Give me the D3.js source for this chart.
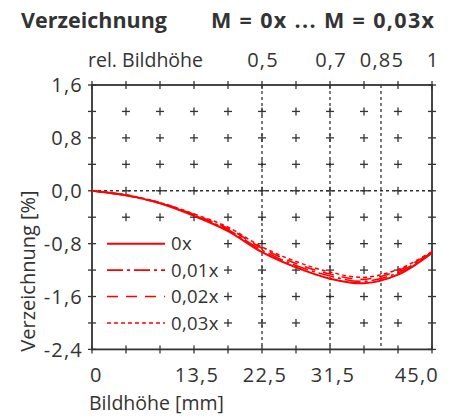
<!DOCTYPE html>
<html><head><meta charset="utf-8">
<script src="https://cdn.jsdelivr.net/npm/d3@7"></script>
<style>body{margin:0;background:#fff}svg{display:block}text{font-family:"Open Sans",sans-serif;fill:#333}</style>
</head><body>
<svg id="c" width="456" height="418"></svg>
<script>
const xValues = [0, 4.5, 9, 13.5, 18, 22.5, 27, 31.5, 36, 40.5, 45];
const s0x   = [0, -0.07, -0.19, -0.38, -0.61, -0.93, -1.16, -1.33, -1.40, -1.27, -0.94];
const s001x = [0, -0.07, -0.19, -0.37, -0.59, -0.90, -1.13, -1.29, -1.37, -1.24, -0.93];
const s002x = [0, -0.07, -0.18, -0.36, -0.57, -0.87, -1.10, -1.26, -1.34, -1.21, -0.93];
const s003x = [0, -0.06, -0.18, -0.35, -0.55, -0.85, -1.07, -1.23, -1.31, -1.19, -0.92];
const seriesNames = ["0x", "0,01x", "0,02x", "0,03x"];
const xTicks = [0, 4.5, 9, 13.5, 18, 22.5, 27, 31.5, 36, 40.5, 45];
const xLabelValues = [0, 13.5, 22.5, 31.5, 45];
const xLabelTexts = ["0", "13,5", "22,5", "31,5", "45,0"];
const yTicks = [-2.4, -2.0, -1.6, -1.2, -0.8, -0.4, 0, 0.4, 0.8, 1.2, 1.6];
const yLabelValues = [-2.4, -1.6, -0.8, 0, 0.8, 1.6];
const yLabelTexts = ["-2,4", "-1,6", "-0,8", "0,0", "0,8", "1,6"];
const relValues = [0.5, 0.7, 0.85, 1];
const relTexts = ["0,5", "0,7", "0,85", "1"];
const maxHeight = 45;

const svg = d3.select("#c");
const x = d3.scaleLinear().domain([0, 45]).range([92, 432]);
const y = d3.scaleLinear().domain([-2.4, 1.6]).range([349.4, 85]);
const axisCol = "#333";

// dashed grid lines
const dashX = [22.5, 31.5, 0.85 * maxHeight];
svg.selectAll(".vd").data(dashX).enter().append("line")
  .attr("x1", d => x(d)).attr("x2", d => x(d)).attr("y1", y(1.6)).attr("y2", y(-2.4))
  .attr("stroke", axisCol).attr("stroke-width", 1.3).attr("stroke-dasharray", "3,3");
svg.append("line").attr("x1", x(0)).attr("x2", x(45)).attr("y1", y(0)).attr("y2", y(0))
  .attr("stroke", axisCol).attr("stroke-width", 1.3).attr("stroke-dasharray", "3,3");

// plus marks
const plusPts = [];
xTicks.slice(1, -1).forEach(xv => yTicks.slice(1, -1).forEach(yv => plusPts.push([xv, yv])));
const pl = 4;
svg.selectAll(".ph").data(plusPts).enter().append("line")
  .attr("x1", d => x(d[0]) - pl).attr("x2", d => x(d[0]) + pl).attr("y1", d => y(d[1])).attr("y2", d => y(d[1]))
  .attr("stroke", axisCol).attr("stroke-width", 1.3);
svg.selectAll(".pv").data(plusPts).enter().append("line")
  .attr("x1", d => x(d[0])).attr("x2", d => x(d[0])).attr("y1", d => y(d[1]) - pl).attr("y2", d => y(d[1]) + pl)
  .attr("stroke", axisCol).attr("stroke-width", 1.3);

// frame
svg.append("rect").attr("x", x(0)).attr("y", y(1.6)).attr("width", x(45) - x(0)).attr("height", y(-2.4) - y(1.6))
  .attr("fill", "none").attr("stroke", axisCol).attr("stroke-width", 1.8);

// axis crossing ticks
const tk = 4;
[x(0), x(45)].forEach(ax => {
  svg.selectAll(null).data(yTicks).enter().append("line")
    .attr("x1", ax - tk).attr("x2", ax + tk).attr("y1", d => y(d)).attr("y2", d => y(d))
    .attr("stroke", axisCol).attr("stroke-width", 1.3);
});
[y(-2.4), y(1.6)].forEach(ay => {
  svg.selectAll(null).data(xTicks).enter().append("line")
    .attr("x1", d => x(d)).attr("x2", d => x(d)).attr("y1", ay - tk).attr("y2", ay + tk)
    .attr("stroke", axisCol).attr("stroke-width", 1.3);
});

// curves
const line = d3.line().x(d => x(d[0])).y(d => y(d[1])).curve(d3.curveCatmullRom.alpha(0.5));
const series = [s0x, s001x, s002x, s003x];
const dashes = [null, "16,4,3,4", "11,8", "4,3"];
const widths = [2, 1.6, 1.6, 1.5];
const red = "#ff0000";
series.forEach((s, i) => {
  svg.append("path").datum(xValues.map((xv, j) => [xv, s[j]]))
    .attr("d", line).attr("fill", "none").attr("stroke", red)
    .attr("stroke-width", widths[i]).attr("stroke-dasharray", dashes[i]);
});

// legend
svg.append("rect").attr("x", 100).attr("y", 231).attr("width", 119).attr("height", 103).attr("fill", "#fff");
const legY = [-0.8, -1.2, -1.6, -2.0];
seriesNames.forEach((n, i) => {
  svg.append("line").attr("x1", 107).attr("x2", 165).attr("y1", y(legY[i])).attr("y2", y(legY[i]))
    .attr("stroke", red).attr("stroke-width", widths[i]).attr("stroke-dasharray", dashes[i]);
  svg.append("text").attr("x", 171).attr("y", y(legY[i])).attr("dy", "0.36em")
    .attr("font-size", 18.5).attr("letter-spacing", 0.3).text(n);
});

// y labels
svg.selectAll(".yl").data(yLabelValues).enter().append("text")
  .attr("x", 83).attr("y", d => y(d)).attr("dy", "0.36em").attr("text-anchor", "end")
  .attr("font-size", 20).attr("letter-spacing", 1.2).text((d, i) => yLabelTexts[i]);
// x labels
svg.selectAll(".xl").data(xLabelValues).enter().append("text")
  .attr("x", d => d === 0 ? x(d) - 2 : d === 45 ? x(d) + 7 : x(d) + 3)
  .attr("y", 382).attr("text-anchor", d => d === 0 ? "start" : d === 45 ? "end" : "middle")
  .attr("font-size", 20).attr("letter-spacing", 1.2).text((d, i) => xLabelTexts[i]);
// top labels
svg.selectAll(".tl").data(relValues).enter().append("text")
  .attr("x", d => x(d * maxHeight) + 1).attr("y", 67).attr("text-anchor", "middle")
  .attr("font-size", 20).attr("letter-spacing", 1.2).text((d, i) => relTexts[i]);
svg.append("text").attr("x", 88).attr("y", 67).attr("font-size", 19.5).text("rel. Bildhöhe");

// axis titles
svg.append("text").attr("x", 89).attr("y", 410).attr("font-size", 19.5).text("Bildhöhe [mm]");
svg.append("text").attr("transform", "translate(35,271) rotate(-90)").attr("text-anchor", "middle")
  .attr("font-size", 20).text("Verzeichnung [%]");

// title
svg.append("text").attr("x", 21).attr("y", 28).attr("font-size", 21.5).attr("font-weight", "bold").text("Verzeichnung");
svg.append("text").attr("x", 434).attr("y", 28).attr("font-size", 21.5).attr("font-weight", "bold")
  .attr("text-anchor", "end").attr("textLength", 223).attr("lengthAdjust", "spacing").text("M = 0x ... M = 0,03x");
</script>
</body></html>
